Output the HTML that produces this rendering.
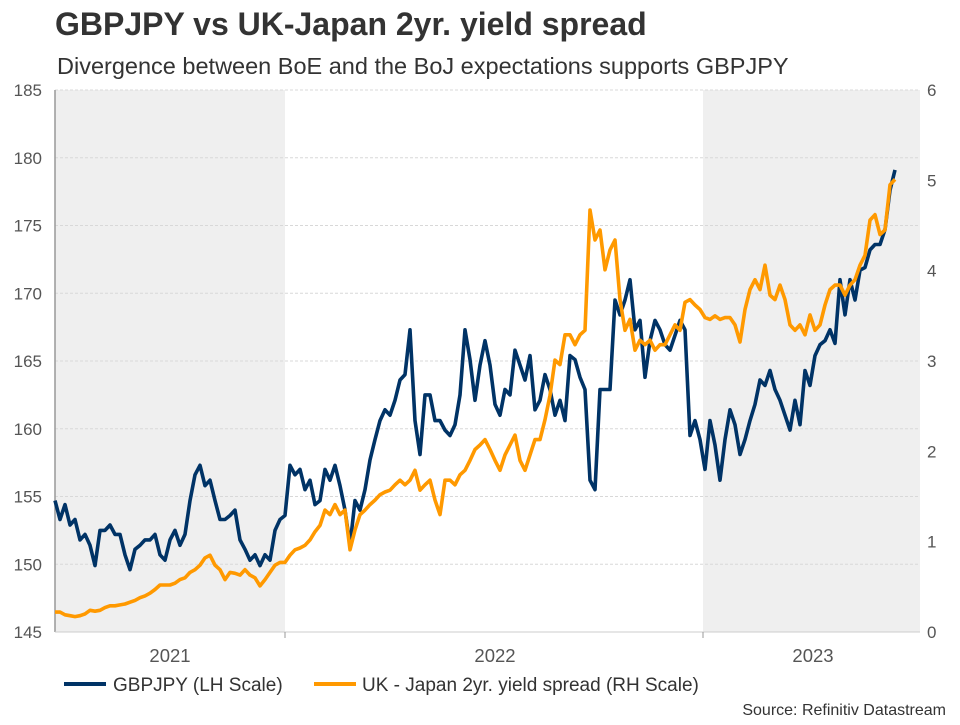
<!DOCTYPE html>
<html><head><meta charset="utf-8"><style>
body{margin:0;background:#fff;font-family:"Liberation Sans",sans-serif;}
svg text{font-family:"Liberation Sans",sans-serif;}
</style></head><body>
<svg id="chart" width="960" height="720" viewBox="0 0 960 720" xmlns="http://www.w3.org/2000/svg">
<text x="55" y="35" font-size="32" font-weight="bold" fill="#333">GBPJPY vs UK-Japan 2yr. yield spread</text>
<text x="57" y="74" font-size="23.5" fill="#333">Divergence between BoE and the BoJ expectations supports GBPJPY</text>
<g id="plot"></g>
<line x1="64" y1="684" x2="106" y2="684" stroke="#003366" stroke-width="4"/>
<text x="113" y="691" font-size="19" fill="#333">GBPJPY (LH Scale)</text>
<line x1="314" y1="684" x2="356" y2="684" stroke="#ff9900" stroke-width="4"/>
<text x="362" y="691" font-size="19" fill="#333">UK - Japan 2yr. yield spread (RH Scale)</text>
<text x="946" y="715" font-size="16" fill="#333" text-anchor="end">Source: Refinitiv Datastream</text>
</svg>
<script>
const leftTicks=[145,150,155,160,165,170,175,180,185];
const rightTicks=[0,1,2,3,4,5,6];
const yearLabels=["2021","2022","2023"];
const gbpjpy=[154.7,153.3,154.4,152.9,153.3,151.8,152.2,151.4,149.9,152.5,152.5,152.9,152.2,152.2,150.7,149.6,151.1,151.4,151.8,151.8,152.2,150.7,150.3,151.8,152.5,151.4,152.2,154.7,156.6,157.3,155.8,156.2,154.7,153.3,153.3,153.6,154.0,151.8,151.1,150.3,150.7,149.9,150.7,150.3,152.5,153.3,153.6,157.3,156.6,157.0,155.5,156.2,154.4,154.7,157.0,156.2,157.3,155.8,154.0,151.4,154.7,154.0,155.5,157.7,159.2,160.6,161.4,161.0,162.1,163.6,164.0,167.3,160.6,158.1,162.5,162.5,160.6,160.6,159.9,159.5,160.3,162.5,167.3,165.1,162.1,164.7,166.5,164.7,161.8,161.0,162.9,162.5,165.8,164.7,163.6,165.4,161.4,162.1,164.0,162.9,161.0,162.1,160.6,165.4,165.1,163.8,162.9,156.2,155.5,162.9,162.9,162.9,169.5,168.4,169.5,171.0,167.3,168.0,163.8,166.5,168.0,167.3,166.2,165.8,166.9,168.0,167.3,159.5,160.6,159.2,157.0,160.6,158.8,156.2,159.2,161.4,160.3,158.1,159.2,160.6,161.8,163.6,163.2,164.3,162.9,162.1,161.0,159.9,162.1,160.3,164.3,163.2,165.4,166.2,166.5,167.3,166.3,171.0,168.4,171.0,169.5,171.7,171.9,173.2,173.6,173.6,174.7,177.6,179.1];
const spread=[0.22,0.22,0.19,0.18,0.17,0.18,0.20,0.24,0.23,0.24,0.27,0.29,0.29,0.30,0.31,0.33,0.35,0.38,0.40,0.43,0.47,0.52,0.52,0.52,0.54,0.58,0.60,0.66,0.69,0.74,0.82,0.85,0.74,0.69,0.58,0.66,0.65,0.63,0.69,0.63,0.60,0.51,0.58,0.66,0.74,0.77,0.77,0.85,0.91,0.93,0.96,1.02,1.11,1.18,1.35,1.30,1.41,1.30,1.35,0.91,1.13,1.30,1.35,1.41,1.46,1.52,1.55,1.57,1.63,1.68,1.63,1.68,1.79,1.57,1.63,1.68,1.46,1.30,1.68,1.68,1.63,1.74,1.79,1.90,2.02,2.07,2.13,2.02,1.90,1.79,1.96,2.07,2.18,1.90,1.79,1.96,2.13,2.13,2.35,2.62,3.01,2.96,3.29,3.29,3.18,3.29,3.34,4.67,4.34,4.45,4.01,4.23,4.34,3.68,3.34,3.46,3.12,3.23,3.18,3.23,3.12,3.18,3.18,3.29,3.40,3.34,3.65,3.68,3.62,3.57,3.48,3.46,3.50,3.46,3.48,3.48,3.40,3.21,3.57,3.79,3.90,3.79,4.06,3.73,3.68,3.84,3.68,3.40,3.34,3.40,3.29,3.51,3.34,3.40,3.62,3.79,3.84,3.84,3.73,3.84,3.90,4.06,4.17,4.56,4.62,4.40,4.45,4.95,5.01];

const L=55,R=920,T=90,B=632,XEND=895;
const yL=v=>T+(185-v)*(B-T)/40;
const yR=v=>B-v*(B-T)/6;
const xI=(i,n)=>L+i*(XEND-L)/(n-1);
const NS="http://www.w3.org/2000/svg";
const g=document.getElementById('plot');
function mk(t,a){const e=document.createElementNS(NS,t);for(const k in a)e.setAttribute(k,a[k]);g.appendChild(e);return e;}
let s1=mk('rect',{x:L,y:T,width:285-L,height:B-T,fill:"#efefef"});


let s2=mk('rect',{x:703,y:T,width:R-703,height:B-T,fill:"#efefef"});


leftTicks.forEach(v=>{
  const y=yL(v);
  const gl=mk('line',{x1:L,x2:R,y1:y,y2:y,stroke:"#d8d8d8","stroke-dasharray":"3,2","stroke-width":1});
  
  
  const t=mk('text',{x:L-13,y:y+6,"font-size":17,fill:"#555","text-anchor":"end"});
  t.textContent=v;
  
  
});
rightTicks.forEach(v=>{
  const t=mk('text',{x:R+7,y:yR(v)+6,"font-size":17,fill:"#555"});
  t.textContent=v;
  
  
});
const ax=mk('line',{x1:L,x2:L,y1:T,y2:B,stroke:"#999","stroke-width":1.5});


const bx=mk('line',{x1:L,x2:R,y1:B,y2:B,stroke:"#ccc","stroke-width":1});


[285,703].forEach(x=>{
  const tk=mk('line',{x1:x,x2:x,y1:B,y2:B+6,stroke:"#999"});
  
  
});
const yearX=[170,495,813];
yearLabels.forEach((lab,i)=>{
  const t=mk('text',{x:yearX[i],y:662,"font-size":18.5,fill:"#555","text-anchor":"middle"});
  t.textContent=lab;
  
  
});
function line(arr,ys,color,name){
  const d=arr.map((v,i)=>(i?'L':'M')+xI(i,arr.length).toFixed(1)+' '+ys(v).toFixed(1)).join(' ');
  const p=mk('path',{d:d,fill:"none",stroke:color,"stroke-width":3.6,"stroke-linejoin":"round"});
  
  
}
line(gbpjpy,yL,"#003366","gbpjpy-line");
line(spread,yR,"#ff9900","spread-line");
</script>
</body></html>
